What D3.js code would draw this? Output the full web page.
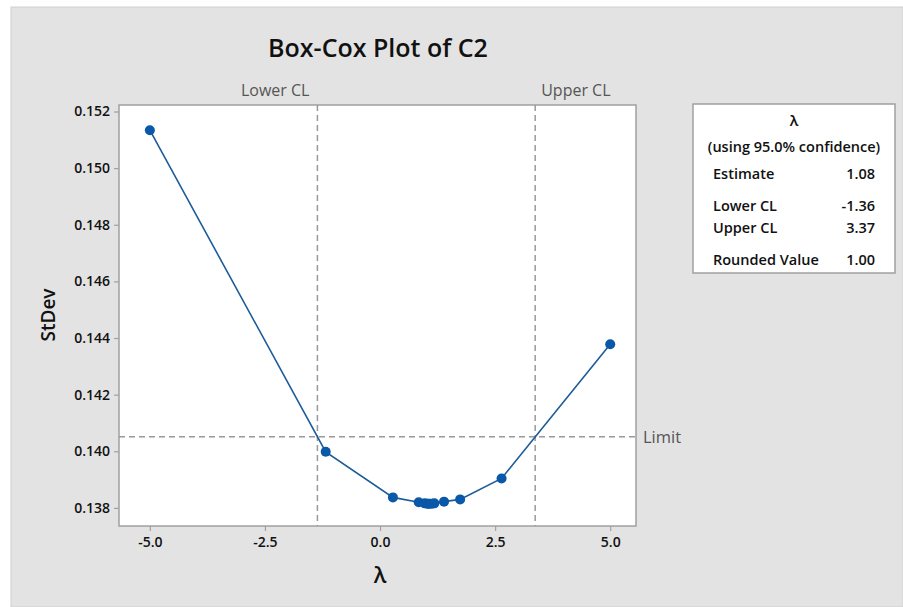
<!DOCTYPE html>
<html>
<head>
<meta charset="utf-8">
<script src="https://cdn.jsdelivr.net/npm/d3@7"></script>
<style>
  html, body { margin: 0; padding: 0; background: #ffffff; }
  svg { display: block; font-family: "Open Sans", "Noto Sans", sans-serif; }
</style>
</head>
<body>
<svg id="chart" width="903" height="607"></svg>
<script>
// Box-Cox search: lambda values evaluated and the pooled StDev at each
const lambdas = [-5, -1.18, 0.28, 0.84, 0.97, 1.02, 1.05, 1.08, 1.13, 1.18, 1.39, 1.74, 2.64, 5];
const stdevs  = [0.15134, 0.13998, 0.13837, 0.13820, 0.13816, 0.13815, 0.13815, 0.13815, 0.13815, 0.13816, 0.13822, 0.13830, 0.13904, 0.14378];

const xTicks = [-5, -2.5, 0, 2.5, 5];
const yTicks = [0.138, 0.140, 0.142, 0.144, 0.146, 0.148, 0.150, 0.152];

const lowerCL = -1.36;
const upperCL = 3.37;
const limitValue = 0.14051;

const tableTitle = ["\u03bb", "(using 95.0% confidence)"];
const tableLabels = ["Estimate", "Lower CL", "Upper CL", "Rounded Value"];
const tableValues = ["1.08", "-1.36", "3.37", "1.00"];

const ink = "#111111";
const svg = d3.select("#chart");

// page background
svg.append("rect").attr("x", 11).attr("y", 7).attr("width", 892).attr("height", 600)
  .attr("fill", "#e3e3e3").attr("stroke", "#cfcfcf");

const plot = { left: 119, top: 105, right: 636, bottom: 526 };

const x = d3.scaleLinear().domain([-5.67, 5.56]).range([plot.left, plot.right]);
const y = d3.scaleLinear().domain([0.13736, 0.15223]).range([plot.bottom, plot.top]);

svg.append("rect")
  .attr("x", plot.left).attr("y", plot.top)
  .attr("width", plot.right - plot.left).attr("height", plot.bottom - plot.top)
  .attr("fill", "#ffffff").attr("stroke", "#a0a0a0").attr("stroke-width", 1.5);

// reference lines
const refColor = "#999999";
[lowerCL, upperCL].forEach(v => {
  svg.append("line")
    .attr("x1", x(v)).attr("x2", x(v)).attr("y1", plot.top).attr("y2", plot.bottom)
    .attr("stroke", refColor).attr("stroke-width", 1.5).attr("stroke-dasharray", "6,4");
});
svg.append("line")
  .attr("x1", plot.left).attr("x2", plot.right).attr("y1", y(limitValue)).attr("y2", y(limitValue))
  .attr("stroke", refColor).attr("stroke-width", 1.5).attr("stroke-dasharray", "6,4");

svg.append("text").attr("x", x(lowerCL) - 8).attr("y", 96)
  .attr("text-anchor", "end").attr("font-size", 16).attr("fill", "#555").text("Lower CL");
svg.append("text").attr("x", x(upperCL) + 6).attr("y", 96)
  .attr("text-anchor", "start").attr("font-size", 16).attr("fill", "#555").text("Upper CL");
svg.append("text").attr("x", plot.right + 7).attr("y", y(limitValue) + 6)
  .attr("text-anchor", "start").attr("font-size", 16.5).attr("fill", "#555").text("Limit");

// axes (hyphen minus signs on the tick labels)
const fmtX = d => d3.format(".1f")(d).replace("\u2212", "-");
const xAxis = d3.axisBottom(x).tickValues(xTicks).tickFormat(fmtX).tickSize(5).tickPadding(6);
const yAxis = d3.axisLeft(y).tickValues(yTicks).tickFormat(d3.format(".3f")).tickSize(5).tickPadding(4);

const gx = svg.append("g").attr("transform", `translate(0,${plot.bottom})`).call(xAxis);
const gy = svg.append("g").attr("transform", `translate(${plot.left},0)`).call(yAxis);
[gx, gy].forEach(g => {
  g.select(".domain").remove();
  g.selectAll(".tick line").attr("stroke", "#a0a0a0").attr("stroke-width", 1.2);
  g.selectAll(".tick text").attr("font-size", 14).attr("fill", ink)
    .attr("font-family", "\"Open Sans\", sans-serif").attr("font-weight", 600);
});

// axis titles
svg.append("text").attr("x", x(0)).attr("y", 583).attr("text-anchor", "middle")
  .attr("font-size", 22).attr("font-weight", 600).attr("fill", ink).text("\u03bb");
svg.append("text").attr("transform", `translate(55,315) rotate(-90)`).attr("text-anchor", "middle")
  .attr("font-size", 19).attr("font-weight", 600).attr("fill", ink).text("StDev");

// chart title
svg.append("text").attr("x", 378).attr("y", 57).attr("text-anchor", "middle")
  .attr("font-size", 25).attr("font-weight", 600).attr("fill", ink).text("Box-Cox Plot of C2");

// curve and points
const line = d3.line().x((d, i) => x(lambdas[i])).y((d, i) => y(stdevs[i]));
svg.append("path").datum(stdevs).attr("d", line)
  .attr("fill", "none").attr("stroke", "#1d5c99").attr("stroke-width", 1.6);
svg.selectAll("circle.pt").data(stdevs).join("circle").attr("class", "pt")
  .attr("cx", (d, i) => x(lambdas[i])).attr("cy", d => y(d)).attr("r", 5)
  .attr("fill", "#0a58a8");

// lambda summary table
const tb = { x: 693, y: 104, w: 202, h: 169 };
svg.append("rect").attr("x", tb.x).attr("y", tb.y).attr("width", tb.w).attr("height", tb.h)
  .attr("fill", "#ffffff").attr("stroke", "#a0a0a0").attr("stroke-width", 1.5);
const cx = tb.x + tb.w / 2;
svg.append("text").attr("x", cx).attr("y", 126).attr("text-anchor", "middle")
  .attr("font-size", 15).attr("font-weight", 600).attr("fill", ink).text(tableTitle[0]);
svg.append("text").attr("x", cx).attr("y", 152).attr("text-anchor", "middle")
  .attr("font-size", 14.5).attr("font-weight", 600).attr("fill", ink).text(tableTitle[1]);
const rowY = [179, 211, 233, 265];
tableLabels.forEach((lab, i) => {
  svg.append("text").attr("x", 713).attr("y", rowY[i]).attr("font-size", 14.5)
    .attr("font-weight", 600).attr("fill", ink).text(lab);
  svg.append("text").attr("x", 875).attr("y", rowY[i]).attr("text-anchor", "end")
    .attr("font-size", 14.5).attr("font-weight", 600).attr("fill", ink).text(tableValues[i]);
});
</script>
</body>
</html>
